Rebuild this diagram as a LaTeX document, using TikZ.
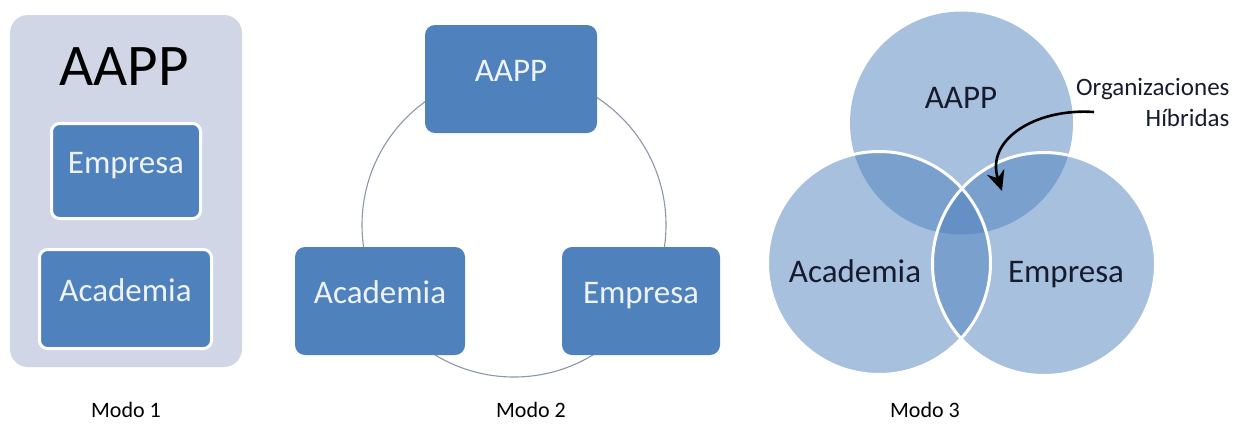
\documentclass[tikz,border=0pt]{standalone}
\usepackage{fontspec}
\setmainfont{Carlito}
\usetikzlibrary{arrows.meta}
\definecolor{boxblue}{RGB}{79,129,189}
\definecolor{bgpanel}{RGB}{208,214,229}
\definecolor{darktext}{RGB}{22,28,45}
\definecolor{ringgray}{RGB}{140,150,170}
\definecolor{boxtext}{RGB}{238,243,250}
\tikzset{
  fs/.style={font=\fontsize{#1}{#1}\selectfont},
  bluebox/.style={fill=boxblue, rounded corners=10pt, text=boxtext, fs=33,
    text height=0.644em, text depth=0.1em, inner sep=0pt},
  whitebox/.style={bluebox, draw=white, line width=3pt, rounded corners=8pt},
  venn/.style={circle, fill=boxblue, fill opacity=0.5, minimum size=223pt, inner sep=0pt},
  vennlabel/.style={anchor=base, text=darktext, fs=33},
  modolabel/.style={anchor=base, text=black, fs=22},
}
\begin{document}
\begin{tikzpicture}[x=1pt,y=-1pt]
\useasboundingbox (0,0) rectangle (1238,434);

% ---------- Modo 1 ----------
\node[fill=bgpanel, rounded corners=18pt, minimum width=232pt, minimum height=352pt, inner sep=0pt]
  (panel) at (126,191) {};
\node[anchor=base, fs=59, text=black] (m1aapp) at (124,85) {AAPP};
\node[whitebox, minimum width=149pt, minimum height=95pt] (m1emp) at (126,171) {Empresa};
\node[whitebox, minimum width=172pt, minimum height=99pt] (m1aca) at (125.5,299) {Academia};
\node[modolabel] (modo1) at (126,417) {Modo 1};

% ---------- Modo 2 ----------
\node[circle, draw=ringgray, line width=1.1pt, minimum size=304pt, inner sep=0pt] (ring) at (514,225) {};
\node[bluebox, minimum width=172pt, minimum height=108pt] (m2aapp) at (511,79) {AAPP};
\node[bluebox, minimum width=170pt, minimum height=108pt] (m2aca) at (380,301) {Academia};
\node[bluebox, minimum width=158pt, minimum height=108pt] (m2emp) at (641,301) {Empresa};
\node[modolabel] (modo2) at (531,417) {Modo 2};

% ---------- Modo 3 ----------
\node[venn] (c1) at (961.5,123) {};
\node[venn] (c2) at (879,263) {};
\node[venn] (c3) at (1044,264) {};
\draw[white, line width=3pt] (c2.center) circle (111.5);
\draw[white, line width=3pt] (c3.center) circle (111.5);
\node[vennlabel] (l1) at (961,108) {AAPP};
\node[vennlabel] (l2) at (855,282) {Academia};
\node[vennlabel] (l3) at (1066,282) {Empresa};
\node[anchor=base east, text=darktext, fs=25] (hyb1) at (1233,95) {Organizaciones};
\node[anchor=base east, text=darktext, fs=25] (hyb2) at (1233,126) {Híbridas};
\coordinate (arrS) at (1094,112);
\coordinate (arrE) at (1002,191);
\draw[line width=2.6pt, -{Stealth[length=20pt,width=18pt]}]
  (arrS) .. controls (1035,108) and (985,140) .. (arrE);
\node[modolabel] (modo3) at (925,417) {Modo 3};
\end{tikzpicture}
\end{document}
